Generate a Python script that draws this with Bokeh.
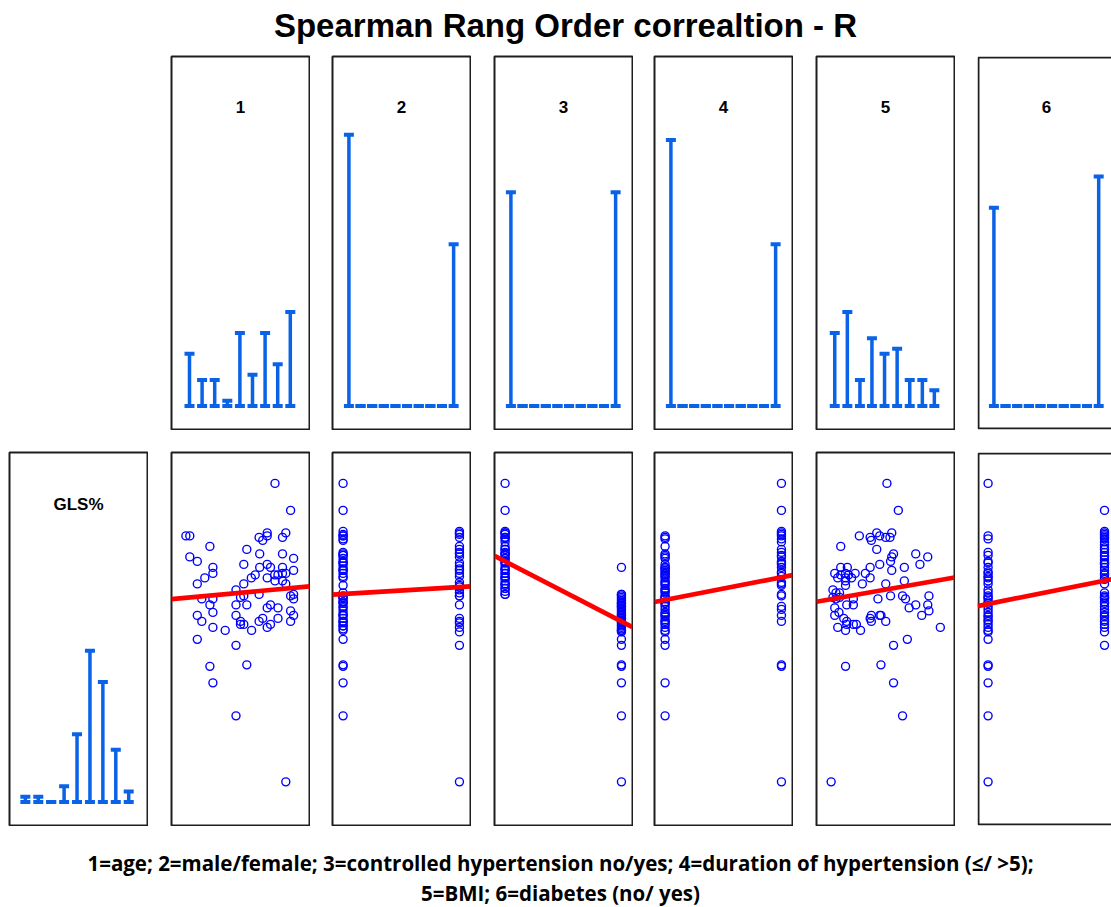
from bokeh.plotting import figure
from bokeh.models import Range1d, Label, Spacer
from bokeh.layouts import column, row
from bokeh.embed import file_html
from bokeh.resources import INLINE

# ---------------- texts ----------------
TITLE = "Spearman Rang Order correaltion - R"
FOOTER_1 = "1=age; 2=male/female; 3=controlled hypertension no/yes; 4=duration of hypertension (\u2264/ >5);"
FOOTER_2 = "5=BMI; 6=diabetes (no/ yes)"
panel_labels = ["1", "2", "3", "4", "5", "6"]
gls_label = "GLS%"

# ---------------- histogram data ----------------
gls_bins = [9.2, 11.4, 13.6, 15.8, 18.0, 20.2, 22.4, 24.6, 26.8]
gls_counts = [1, 1, 0, 3, 13, 29, 23, 10, 2]

age_bins = [43.2, 47.4, 51.6, 55.8, 60.0, 64.2, 68.4, 72.6, 76.8]
age_counts = [10, 5, 5, 1, 14, 6, 14, 8, 18]

bmi_bins = [20.6, 22.7, 24.8, 26.8, 28.9, 31.0, 33.1, 35.2, 37.2]
bmi_counts = [14, 18, 5, 13, 10, 11, 5, 5, 3]

binary_bins = [0.05, 0.15, 0.25, 0.35, 0.45, 0.55, 0.65, 0.75, 0.85, 0.95]
sex_counts = [52, 0, 0, 0, 0, 0, 0, 0, 0, 31]
ctrl_counts = [41, 0, 0, 0, 0, 0, 0, 0, 0, 41]
dur_counts = [51, 0, 0, 0, 0, 0, 0, 0, 0, 31]
dia_counts = [38, 0, 0, 0, 0, 0, 0, 0, 0, 44]

# ---------------- scatter data (GLS% vs. variable) ----------------
age_x = [71.7, 76.9, 42.0, 43.3, 69.1, 75.3, 66.4, 67.6, 69.1, 74.2, 50.0, 62.3, 43.3, 45.8,
         66.6, 74.2, 77.9, 51.0, 51.0, 61.3, 69.1, 70.2, 66.6, 74.2, 77.9, 48.3, 63.8, 65.1,
         69.1, 71.6, 72.7, 74.2, 75.3, 71.7, 74.2, 75.3, 45.8, 61.3, 58.7, 47.3, 51.0, 60.2,
         61.3, 66.4, 76.9, 77.9, 77.9, 50.0, 58.7, 62.3, 69.1, 70.2, 72.7, 45.8, 51.0, 47.3,
         58.7, 60.2, 61.3, 60.2, 66.4, 67.6, 69.1, 70.2, 72.7, 76.9, 77.9, 76.9, 51.0, 55.1,
         63.9, 45.8, 58.7, 50.0, 62.3, 51.0, 58.7, 75.3]
age_gls = [28.0, 26.2, 24.5, 24.5, 24.7, 24.7, 24.4, 24.2, 24.5, 24.4, 23.8, 23.6, 23.1, 22.8,
           23.3, 23.3, 23.0, 22.4, 22.0, 22.6, 22.6, 22.4, 22.4, 22.4, 22.2, 21.7, 21.7, 21.9,
           21.7, 21.9, 21.9, 22.0, 22.0, 21.5, 21.5, 21.3, 21.3, 21.3, 20.9, 20.3, 20.3, 20.4,
           20.5, 20.6, 20.5, 20.6, 20.3, 19.9, 19.9, 19.9, 19.7, 19.9, 19.7, 19.2, 19.4, 18.8,
           19.2, 18.8, 18.6, 18.6, 18.8, 19.0, 18.4, 18.6, 19.0, 19.5, 19.2, 18.8, 18.4, 18.2,
           18.2, 17.6, 17.2, 15.8, 15.9, 14.7, 12.5, 8.1]

sex_male_gls = [28.0, 26.2, 24.8, 24.6, 24.5, 24.5, 24.3, 24.2, 23.4, 23.3, 23.2, 23.2, 23.0,
                22.8, 22.7, 22.7, 22.5, 22.3, 22.2, 22.2, 22.0, 21.8, 21.7, 21.2, 20.7, 20.5,
                20.4, 20.4, 20.3, 20.1, 20.1, 20.0, 19.8, 19.7, 19.5, 19.3, 19.2, 19.2, 19.0,
                18.8, 18.8, 18.7, 18.5, 18.5, 18.3, 18.2, 17.6, 15.9, 15.8, 14.7, 12.5]
sex_female_gls = [24.8, 24.7, 24.6, 24.4, 23.8, 23.6, 23.4, 23.3, 23.1, 22.7, 22.5, 22.3, 22.2,
                  22.0, 21.8, 21.4, 21.2, 21.1, 20.9, 20.7, 20.5, 20.5, 19.9, 19.0, 18.8, 18.7,
                  18.4, 18.1, 17.2, 8.1]

ctrl_no_gls = [28.0, 26.2, 24.8, 24.7, 24.7, 24.6, 24.4, 24.4, 24.3, 24.1, 23.8, 23.6, 23.6,
               23.4, 23.3, 23.3, 23.2, 23.0, 23.0, 22.8, 22.7, 22.7, 22.5, 22.3, 22.3, 22.2,
               22.0, 22.0, 21.8, 21.7, 21.7, 21.5, 21.3, 21.3, 21.2, 21.0, 21.0, 20.8, 20.6, 20.6]
ctrl_yes_gls = [22.4, 20.6, 20.6, 20.5, 20.4, 20.3, 20.2, 20.1, 20.0, 20.0, 19.9, 19.8, 19.8,
                19.7, 19.6, 19.5, 19.4, 19.3, 19.2, 19.2, 19.1, 19.0, 19.0, 18.9, 18.8, 18.8,
                18.7, 18.6, 18.5, 18.4, 18.3, 18.2, 18.2, 18.1, 17.6, 17.2, 15.9, 15.8, 14.7,
                12.5, 8.1]

dur_short_gls = [24.5, 24.4, 24.3, 23.8, 23.3, 23.2, 23.1, 23.0, 22.6, 22.4, 22.4, 22.3, 22.2,
                 22.1, 22.0, 21.9, 21.8, 21.7, 21.5, 21.4, 21.3, 21.2, 21.0, 20.9, 20.8, 20.7,
                 20.5, 20.4, 20.4, 20.3, 20.1, 20.0, 20.0, 19.8, 19.6, 19.4, 19.3, 19.2, 19.1,
                 18.9, 18.8, 18.7, 18.6, 18.4, 18.2, 18.1, 17.6, 17.2, 14.7, 12.5]
dur_long_gls = [28.0, 26.2, 24.8, 24.7, 24.6, 24.5, 24.3, 24.1, 23.6, 23.4, 23.2, 23.1, 22.8,
                22.7, 22.6, 22.4, 22.1, 22.0, 21.8, 21.4, 21.3, 21.2, 20.6, 20.5, 19.8, 19.6,
                19.2, 18.8, 15.9, 15.8, 8.1]

bmi_x = [29.3, 31.2, 24.7, 26.5, 26.7, 27.6, 28.1, 29.1, 29.8, 30.1, 21.6, 27.6, 30.4, 30.1,
         29.9, 34.1, 36.1, 28.1, 34.8, 32.2, 21.6, 22.7, 26.5, 30.1, 20.6, 21.6, 22.4, 22.9,
         24.0, 21.1, 22.4, 23.4, 25.7, 26.5, 22.4, 22.4, 25.2, 29.1, 32.2, 20.3, 20.8, 21.4,
         20.3, 20.8, 23.7, 21.4, 27.8, 29.9, 31.9, 32.4, 36.3, 22.6, 23.7, 20.6, 20.6, 21.3,
         33.0, 34.1, 36.1, 36.3, 35.1, 22.1, 22.6, 22.6, 23.7, 24.2, 21.1, 22.4, 24.9, 26.5,
         26.7, 26.7, 28.1, 28.3, 29.1, 38.2, 30.4, 32.7, 22.4, 28.3, 30.4, 31.9, 20.0]
bmi_gls = [28.0, 26.2, 24.5, 24.4, 24.2, 24.7, 24.5, 24.4, 24.4, 24.7, 23.8, 23.6, 23.3, 23.1,
           22.8, 23.3, 23.1, 22.6, 22.6, 22.4, 22.4, 22.4, 22.4, 22.2, 22.0, 21.9, 22.0, 21.9,
           22.0, 21.7, 21.7, 21.7, 22.0, 21.7, 21.5, 21.2, 21.3, 21.3, 21.5, 20.9, 20.7, 20.7,
           20.4, 20.3, 20.3, 20.4, 20.3, 20.5, 20.5, 20.3, 20.5, 19.9, 19.9, 19.7, 19.2, 19.4,
           19.7, 19.9, 19.9, 19.5, 19.2, 19.0, 18.8, 18.6, 18.6, 18.6, 18.4, 18.2, 18.2, 19.0,
           19.2, 18.8, 19.2, 19.2, 18.8, 18.4, 17.2, 17.6, 15.8, 15.9, 14.7, 12.5, 8.1]

dia_no_gls = [28.0, 24.5, 24.3, 23.4, 23.2, 22.8, 22.7, 22.4, 22.1, 22.0, 21.8, 21.7, 21.5,
              21.3, 20.9, 20.7, 20.5, 20.4, 20.3, 20.1, 20.0, 19.8, 19.6, 19.4, 19.2, 19.1,
              18.9, 18.8, 18.6, 18.4, 18.2, 18.1, 17.6, 15.9, 15.8, 14.7, 12.5, 8.1]
dia_yes_gls = [26.2, 24.8, 24.7, 24.6, 24.5, 24.4, 24.3, 24.1, 23.9, 23.7, 23.6, 23.4, 23.2,
               23.1, 22.9, 22.7, 22.7, 22.6, 22.4, 22.2, 22.0, 21.9, 21.7, 21.6, 21.3, 20.7,
               20.5, 20.4, 20.4, 20.3, 20.1, 20.0, 19.8, 19.6, 19.4, 19.2, 19.1, 18.9, 18.8,
               18.6, 18.4, 18.1, 17.2]

# regression lines (intercept, slope)
fit_age = (19.61, 0.01826)
fit_sex = (20.62, 0.466)
fit_ctrl = (22.80, -4.0)
fit_dur = (20.23, 1.508)
fit_bmi = (18.87, 0.0704)
fit_dia = (19.96, 1.559)

# ---------------- styling ----------------
HIST_COLOR = "#0a62e6"
PT_COLOR = "#0000ff"
LINE_COLOR = "#ff0000"
BORDER = "#1e1e1e"
FONT = "Liberation Sans"

PANEL_H = 375
FRAME_H = PANEL_H - 2
HIST_YR = (-4.5, 67.0)
GLS_YR = (5.19, 30.06)
AGE_XR = (37.2, 83.2)
BMI_XR = (17.56, 40.56)
BIN_XR = (-0.091, 1.095)
BIN_XR_LAST = (-0.091, 1.06)
GLS_XR = (6.5, 30.0)


def make_panel(xr, yr, width=140, clip_right=False):
    p = figure(width=width, height=PANEL_H, x_range=Range1d(*xr), y_range=Range1d(*yr),
               output_backend="svg", toolbar_location=None,
               x_axis_location=None, y_axis_location=None,
               min_border_left=1, min_border_top=1, min_border_bottom=1,
               min_border_right=0 if clip_right else 1)
    p.grid.grid_line_color = None
    p.background_fill_color = "white"
    p.border_fill_color = "white"
    if clip_right:
        # panel cut by the right edge of the page: border on left, top and bottom only
        p.outline_line_color = None
        fw = width - 1
        dx = (xr[1] - xr[0]) / fw
        dy = (yr[1] - yr[0]) / FRAME_H
        p.quad(left=[xr[0] + dx], right=[xr[1] + 20 * dx], bottom=[yr[0] + dy], top=[yr[1] - dy],
               fill_color=None, line_color=BORDER, line_width=2)
    else:
        p.outline_line_color = BORDER
        p.outline_line_width = 2
        p.outline_line_alpha = 1.0
    return p


def add_label(p, text, xr, yr, fw=138, below_top=50.0):
    xc = xr[0] + (xr[1] - xr[0]) * (69.0 / fw)
    yb = yr[1] - (yr[1] - yr[0]) * (below_top / FRAME_H)
    p.add_layout(Label(x=xc, y=yb, text=text, text_align="center", text_baseline="alphabetic",
                       text_font=FONT, text_font_style="bold", text_font_size="17px",
                       text_color="black"))


def add_hist(p, bins, counts):
    zeros = [0] * len(bins)
    p.segment(x0=bins, y0=zeros, x1=bins, y1=counts, line_color=HIST_COLOR, line_width=3.5)
    p.scatter(x=bins, y=zeros, marker="dash", size=10, line_color=HIST_COLOR, line_width=4)
    p.scatter(x=bins, y=counts, marker="dash", size=10, line_color=HIST_COLOR, line_width=4)


def add_scatter(p, xs, ys, fit, xr):
    p.scatter(x=xs, y=ys, marker="circle", size=8, fill_color=None,
              line_color=PT_COLOR, line_width=1.4)
    a, b = fit
    p.line(x=[xr[0], xr[1]], y=[a + b * xr[0], a + b * xr[1]],
           line_color=LINE_COLOR, line_width=4.7)


PAGE_W = 1111

# ---------------- title ----------------
title_fig = figure(width=PAGE_W, height=55, x_range=Range1d(0, PAGE_W), y_range=Range1d(0, 55),
                   output_backend="svg", toolbar_location=None,
                   x_axis_location=None, y_axis_location=None, min_border=0)
title_fig.grid.grid_line_color = None
title_fig.outline_line_color = None
title_fig.add_layout(Label(x=565, y=30, text=TITLE, text_align="center",
                           text_baseline="alphabetic", text_font=FONT,
                           text_font_style="bold", text_font_size="33px", text_color="black"))

# ---------------- top row: histograms ----------------
top_specs = [
    (AGE_XR, age_bins, age_counts, 140, False),
    (BIN_XR, binary_bins, sex_counts, 140, False),
    (BIN_XR, binary_bins, ctrl_counts, 140, False),
    (BIN_XR, binary_bins, dur_counts, 140, False),
    (BMI_XR, bmi_bins, bmi_counts, 140, False),
    (BIN_XR_LAST, binary_bins, dia_counts, 135, True),
]
top_figs = []
for lab, (xr, bins, counts, w, clip) in zip(panel_labels, top_specs):
    p = make_panel(xr, HIST_YR, width=w, clip_right=clip)
    add_hist(p, bins, counts)
    add_label(p, lab, xr, HIST_YR, fw=(w - 1) if clip else (w - 2), below_top=50.0)
    top_figs.append(p)

# ---------------- bottom row ----------------
gls_fig = make_panel(GLS_XR, HIST_YR)
add_hist(gls_fig, gls_bins, gls_counts)
add_label(gls_fig, gls_label, GLS_XR, HIST_YR, below_top=52.0)

bottom_specs = [
    (AGE_XR, age_x, age_gls, fit_age, 140, False),
    (BIN_XR, [0] * len(sex_male_gls) + [1] * len(sex_female_gls), sex_male_gls + sex_female_gls, fit_sex, 140, False),
    (BIN_XR, [0] * len(ctrl_no_gls) + [1] * len(ctrl_yes_gls), ctrl_no_gls + ctrl_yes_gls, fit_ctrl, 140, False),
    (BIN_XR, [0] * len(dur_short_gls) + [1] * len(dur_long_gls), dur_short_gls + dur_long_gls, fit_dur, 140, False),
    (BMI_XR, bmi_x, bmi_gls, fit_bmi, 140, False),
    (BIN_XR_LAST, [0] * len(dia_no_gls) + [1] * len(dia_yes_gls), dia_no_gls + dia_yes_gls, fit_dia, 135, True),
]
bottom_figs = []
for xr, xs, ys, fit, w, clip in bottom_specs:
    p = make_panel(xr, GLS_YR, width=w, clip_right=clip)
    add_scatter(p, xs, ys, fit, xr)
    bottom_figs.append(p)

gaps = [22, 21, 22, 20, 22, 21]
LEFT = 8

top_children = [Spacer(width=LEFT + 140 + gaps[0], height=PANEL_H)]
for i, f in enumerate(top_figs):
    top_children.append(f)
    if i + 1 < len(top_figs):
        top_children.append(Spacer(width=gaps[i + 1], height=PANEL_H))

bottom_children = [Spacer(width=LEFT, height=PANEL_H), gls_fig, Spacer(width=gaps[0], height=PANEL_H)]
for i, f in enumerate(bottom_figs):
    bottom_children.append(f)
    if i + 1 < len(bottom_figs):
        bottom_children.append(Spacer(width=gaps[i + 1], height=PANEL_H))

# ---------------- footer ----------------
FOOT_H = 81
footer_fig = figure(width=PAGE_W, height=FOOT_H, x_range=Range1d(0, PAGE_W), y_range=Range1d(0, FOOT_H),
                    output_backend="svg", toolbar_location=None,
                    x_axis_location=None, y_axis_location=None, min_border=0)
footer_fig.grid.grid_line_color = None
footer_fig.outline_line_color = None
for txt, yy in ((FOOTER_1, 45), (FOOTER_2, 15)):
    footer_fig.add_layout(Label(x=560, y=yy, text=txt, text_align="center", text_baseline="middle",
                                text_font="Open Sans", text_font_style="bold",
                                text_font_size="20.5px", text_color="black"))

layout = column(title_fig, row(*top_children), Spacer(width=10, height=21),
                row(*bottom_children), footer_fig)

open("out.html", "w").write(file_html(layout, INLINE))
